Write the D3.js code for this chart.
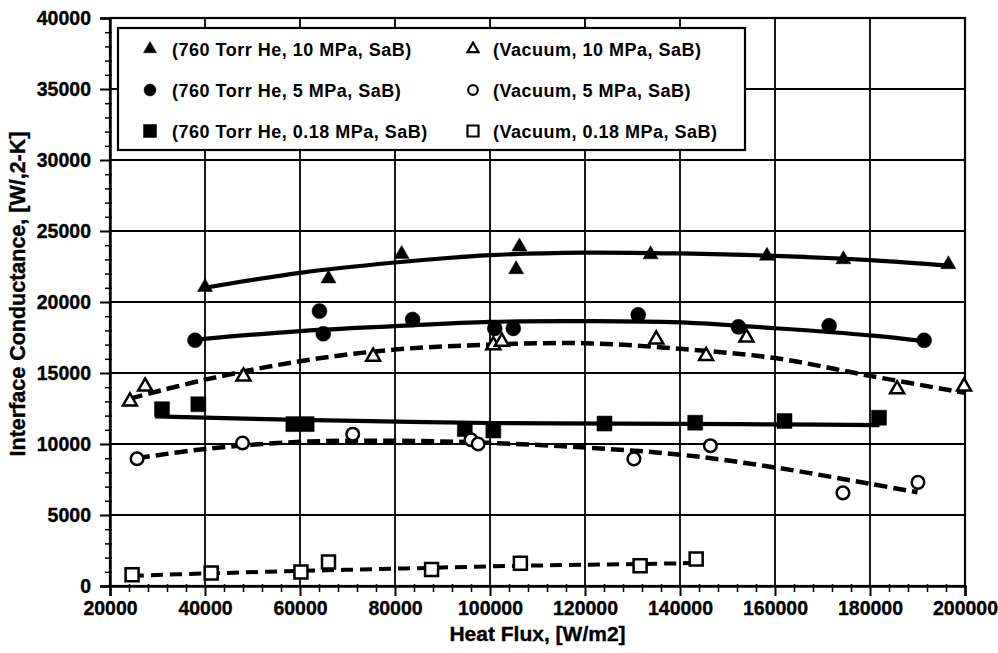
<!DOCTYPE html>
<html>
<head>
<meta charset="utf-8">
<script src="https://cdn.jsdelivr.net/npm/d3@7"></script>
<style>
  html, body { margin: 0; padding: 0; background: #fff; }
  svg { display: block; font-family: "Liberation Sans", Arial, sans-serif; }
</style>
</head>
<body>
<svg id="chart" width="998" height="653"></svg>
<script>
// ---- Data ----
const xTicks = [20000, 40000, 60000, 80000, 100000, 120000, 140000, 160000, 180000, 200000];
const yTicks = [0, 5000, 10000, 15000, 20000, 25000, 30000, 35000, 40000];

const legendLabels = [
  "(760 Torr He, 10 MPa, SaB)", "(Vacuum, 10 MPa, SaB)",
  "(760 Torr He, 5 MPa, SaB)", "(Vacuum, 5 MPa, SaB)",
  "(760 Torr He, 0.18 MPa, SaB)", "(Vacuum, 0.18 MPa, SaB)"
];

// 760 Torr He, 10 MPa (filled triangles)
const he10 = [[40000,21050],[66000,21650],[81400,23370],[105500,22300],[106200,23900],[133800,23350],[158300,23250],[174400,23000],[196500,22650]];
const he10Fit = [[40000,21000],[60000,22050],[80000,22780],[100000,23300],[120000,23480],[140000,23420],[160000,23250],[180000,22950],[197000,22550]];

// 760 Torr He, 5 MPa (filled circles)
const he5 = [[37900,17310],[64100,19360],[64900,17760],[83700,18770],[101000,18140],[104900,18140],[131200,19100],[152300,18250],[171400,18330],[191400,17300]];
const he5Fit = [[38000,17350],[60000,17950],[80000,18300],[100000,18600],[120000,18650],[140000,18560],[160000,18150],[180000,17650],[191400,17250]];

// 760 Torr He, 0.18 MPa (filled squares)
const he018 = [[30950,12450],[38600,12800],[58600,11400],[61400,11400],[94700,11050],[100700,10950],[124100,11440],[143200,11500],[162000,11620],[181900,11850]];
const he018Fit = [[29500,11950],[60000,11700],[100000,11480],[140000,11420],[160000,11380],[182000,11330]];

// Vacuum, 10 MPa (open triangles)
const vac10 = [[24200,13000],[27400,14050],[48100,14750],[75400,16150],[100700,16950],[102500,17200],[135000,17370],[145500,16200],[154000,17500],[185700,13850],[199800,14050]];
const vac10Fit = [[24200,13200],[40000,14530],[60000,15830],[80000,16650],[100000,17000],[120000,17100],[140000,16700],[160000,16050],[180000,14800],[200000,13600]];

// Vacuum, 5 MPa (open circles)
const vac5 = [[25700,8960],[47900,10070],[71100,10690],[96000,10300],[97500,10000],[130300,8950],[146400,9880],[174300,6560],[190100,7300]];
const vac5Fit = [[25700,9000],[40000,9650],[60000,10150],[80000,10230],[100000,10080],[120000,9750],[140000,9250],[160000,8350],[180000,7200],[190000,6600]];

// Vacuum, 0.18 MPa (open squares)
const vac018 = [[24650,800],[41300,920],[60200,990],[66000,1690],[87700,1170],[106400,1600],[131600,1430],[143400,1900]];
const vac018Fit = [[24650,720],[40000,880],[60000,1060],[80000,1220],[100000,1380],[120000,1500],[140000,1600],[143400,1650]];

// ---- Layout ----
const W = 998, H = 653;
const M = { left: 110, right: 33, top: 18, bottom: 67 };
const pw = W - M.left - M.right, ph = H - M.top - M.bottom;

const svg = d3.select("#chart");
svg.append("rect").attr("width", W).attr("height", H).attr("fill", "#fff");
const g = svg.append("g").attr("transform", `translate(${M.left},${M.top})`);

const x = d3.scaleLinear().domain([20000, 200000]).range([0, pw]);
const y = d3.scaleLinear().domain([0, 40000]).range([ph, 0]);

// grid
g.append("g").selectAll("line").data(xTicks.slice(1)).join("line")
  .attr("x1", d => x(d)).attr("x2", d => x(d)).attr("y1", 0).attr("y2", ph)
  .attr("stroke", "#000").attr("stroke-width", 1.8);
g.append("g").selectAll("line").data(yTicks.slice(1)).join("line")
  .attr("x1", 0).attr("x2", pw).attr("y1", d => y(d)).attr("y2", d => y(d))
  .attr("stroke", "#000").attr("stroke-width", 1.8);

// minor ticks
const xMinor = d3.range(20000, 200001, 4000).filter(v => v % 20000 !== 0);
const yMinor = d3.range(0, 40001, 1000).filter(v => v % 5000 !== 0);
g.append("g").attr("transform", `translate(0,${ph})`)
  .call(d3.axisBottom(x).tickValues(xMinor).tickSize(6).tickFormat(""))
  .call(a => a.select(".domain").remove())
  .call(a => a.selectAll("line").attr("stroke-width", 1.5).attr("y1", -2));
g.append("g")
  .call(d3.axisLeft(y).tickValues(yMinor).tickSize(5).tickFormat(""))
  .call(a => a.select(".domain").remove())
  .call(a => a.selectAll("line").attr("stroke-width", 1.5).attr("x1", 2));

// major axes
const xAxis = g.append("g").attr("transform", `translate(0,${ph})`)
  .call(d3.axisBottom(x).tickValues(xTicks).tickSize(10).tickPadding(5).tickFormat(d3.format("d")));
const yAxis = g.append("g")
  .call(d3.axisLeft(y).tickValues(yTicks).tickSize(10).tickPadding(9).tickFormat(d3.format("d")));
[xAxis, yAxis].forEach(a => {
  a.select(".domain").attr("stroke-width", 2.4);
  a.selectAll(".tick line").attr("stroke-width", 2);
  a.selectAll("text").attr("font-size", 19.5).attr("font-weight", "bold")
    .attr("fill", "#000").attr("stroke", "#000").attr("stroke-width", 0.35)
    .attr("font-family", "'Liberation Sans', Arial, sans-serif");
});
// frame right/top
g.append("rect").attr("x", 0).attr("y", 0).attr("width", pw).attr("height", ph)
  .attr("fill", "none").attr("stroke", "#000").attr("stroke-width", 2.2);

// axis titles
svg.append("text").attr("x", M.left + pw / 2).attr("y", 641)
  .attr("text-anchor", "middle").attr("font-size", 21).attr("font-weight", "bold")
  .attr("stroke", "#000").attr("stroke-width", 0.35)
  .text("Heat Flux, [W/m2]");
svg.append("text").attr("transform", `translate(25,${M.top + ph / 2 - 8}) rotate(-90)`)
  .attr("text-anchor", "middle").attr("font-size", 21.5).attr("font-weight", "bold")
  .attr("stroke", "#000").attr("stroke-width", 0.35)
  .text("Interface Conductance, [W/,2-K]");

// fit lines
const line = d3.line().x(d => x(d[0])).y(d => y(d[1])).curve(d3.curveCatmullRom.alpha(0.5));
const fits = [
  { d: he10Fit, dash: null, w: 4.2 },
  { d: he5Fit, dash: null, w: 4.2 },
  { d: he018Fit, dash: null, w: 4.2 },
  { d: vac10Fit, dash: "13,6", w: 4.5 },
  { d: vac5Fit, dash: "13,6", w: 4.5 },
  { d: vac018Fit, dash: "12,7", w: 4 }
];
fits.forEach(f => {
  g.append("path").attr("d", line(f.d)).attr("fill", "none").attr("stroke", "#000")
    .attr("stroke-width", f.w).attr("stroke-dasharray", f.dash);
});

// markers
const triSize = a => a * a * Math.sqrt(3) / 4;
const series = [
  { d: he10, type: d3.symbolTriangle, size: triSize(15), filled: true },
  { d: he5, type: d3.symbolCircle, size: Math.PI * 7.5 * 7.5, filled: true },
  { d: he018, type: d3.symbolSquare, size: 15 * 15, filled: true },
  { d: vac10, type: d3.symbolTriangle, size: triSize(14), filled: false },
  { d: vac5, type: d3.symbolCircle, size: Math.PI * 6.3 * 6.3, filled: false },
  { d: vac018, type: d3.symbolSquare, size: 13 * 13, filled: false }
];
series.forEach(s => {
  g.append("g").selectAll("path").data(s.d).join("path")
    .attr("transform", d => `translate(${x(d[0])},${y(d[1])})`)
    .attr("d", d3.symbol().type(s.type).size(s.size))
    .attr("fill", s.filled ? "#000" : "#fff")
    .attr("stroke", "#000").attr("stroke-width", s.filled ? 0.5 : 2.5);
});

// legend
const lg = svg.append("g");
lg.append("rect").attr("x", 118).attr("y", 28).attr("width", 627).attr("height", 122)
  .attr("fill", "#fff").attr("stroke", "#000").attr("stroke-width", 2.2);
const legSym = [
  { type: d3.symbolTriangle, size: triSize(13), filled: true },
  { type: d3.symbolTriangle, size: triSize(11), filled: false },
  { type: d3.symbolCircle, size: Math.PI * 6 * 6, filled: true },
  { type: d3.symbolCircle, size: Math.PI * 4.8 * 4.8, filled: false },
  { type: d3.symbolSquare, size: 13 * 13, filled: true },
  { type: d3.symbolSquare, size: 11 * 11, filled: false }
];
const rowY = [49, 90, 131];
legendLabels.forEach((lab, i) => {
  const col = i % 2, row = Math.floor(i / 2);
  const sx = col === 0 ? 150 : 473, tx = col === 0 ? 172 : 493;
  const s = legSym[i];
  lg.append("path").attr("transform", `translate(${sx},${rowY[row]})`)
    .attr("d", d3.symbol().type(s.type).size(s.size))
    .attr("fill", s.filled ? "#000" : "#fff").attr("stroke", "#000")
    .attr("stroke-width", s.filled ? 0.5 : 2.2);
  lg.append("text").attr("x", tx).attr("y", rowY[row] + 6.5)
    .attr("font-size", 18).attr("font-weight", "bold").attr("letter-spacing", 0.5)
    .text(lab);
});
</script>
</body>
</html>
